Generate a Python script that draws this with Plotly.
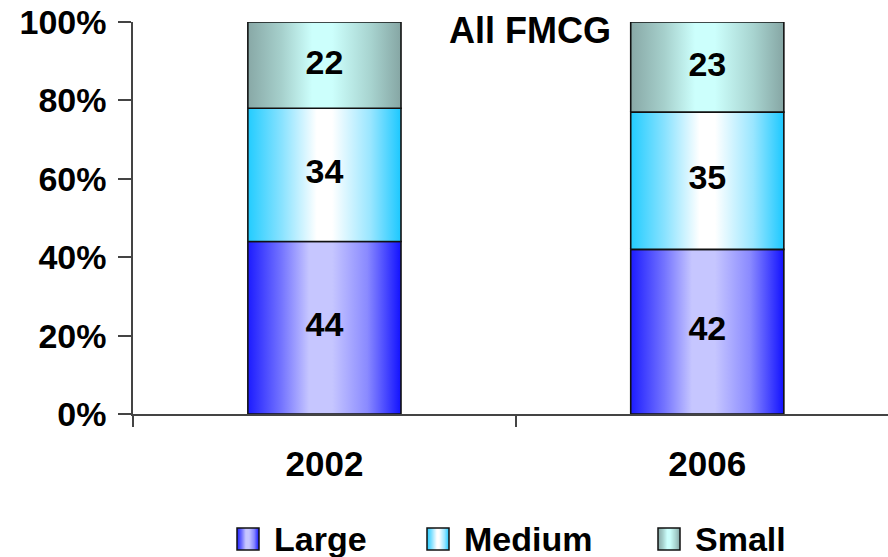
import plotly.graph_objects as go

# Share of FMCG sales by company size, per year (percent)
years = ["2002", "2006"]
series_names = ["Large", "Medium", "Small"]
large = [44, 42]
medium = [34, 35]
small = [22, 23]
y_ticks = [0, 20, 40, 60, 80, 100]
y_tick_labels = ["0%", "20%", "40%", "60%", "80%", "100%"]

series_values = [large, medium, small]

# Horizontal "cylinder" shading per series: dark edges, light centre
gradients = {
    "Large": [[0, "#1c1cff"], [0.22, "#7474ff"], [0.4, "#c6c6ff"], [0.55, "#c6c6ff"],
              [0.78, "#8a8aff"], [1, "#1212ff"]],
    "Medium": [[0, "#22ccff"], [0.22, "#88e2ff"], [0.45, "#ffffff"], [0.55, "#ffffff"],
               [0.8, "#9ae6ff"], [1, "#1cc8ff"]],
    "Small": [[0, "#88a8a6"], [0.22, "#a6d0cc"], [0.42, "#ccfffc"], [0.55, "#ccfffc"],
              [0.8, "#a8d4d0"], [1, "#86a6a4"]],
}

BAR_WIDTH = 0.4
FONT = "Liberation Sans, Arial, sans-serif"

fig = go.Figure()

label_x, label_y, label_t = [], [], []
for i, year in enumerate(years):
    base = 0
    for name, vals in zip(series_names, series_values):
        v = vals[i]
        x0, x1 = i - BAR_WIDTH / 2, i + BAR_WIDTH / 2
        fig.add_trace(go.Scatter(
            x=[x0, x1, x1, x0, x0],
            y=[base, base, base + v, base + v, base],
            mode="lines",
            fill="toself",
            fillgradient=dict(type="horizontal", colorscale=gradients[name]),
            line=dict(color="#111111", width=1.6),
            showlegend=False,
            hoverinfo="skip",
        ))
        label_x.append(i)
        label_y.append(base + v / 2)
        label_t.append(str(v))
        base += v

fig.add_trace(go.Scatter(
    x=label_x, y=label_y, text=label_t, mode="text",
    textfont=dict(family=FONT, size=34, color="#000000", weight="bold"),
    showlegend=False, hoverinfo="skip",
))

# Hidden trace on the overlay axis that carries the category boundary ticks
fig.add_trace(go.Scatter(x=[-0.5, 1.5], y=[0, 0], xaxis="x2", mode="none",
                         showlegend=False, hoverinfo="skip"))

XRANGE = [-0.5, 1.472]

fig.update_layout(
    width=888, height=557,
    margin=dict(l=133, r=0, t=22, b=143),
    paper_bgcolor="#ffffff", plot_bgcolor="#ffffff",
    showlegend=False,
    title=dict(text="All FMCG", x=530 / 888, xanchor="center", xref="container",
               y=1 - 30 / 557, yref="container", yanchor="middle",
               font=dict(family=FONT, size=36, color="#000000", weight="bold")),
    xaxis=dict(range=XRANGE, tickvals=list(range(len(years))), ticktext=years,
               ticks="", showgrid=False, zeroline=False,
               showline=True, linecolor="#444444", linewidth=1.5,
               tickfont=dict(family=FONT, size=35, color="#000000", weight="bold"),
               ticklabelstandoff=18),
    xaxis2=dict(range=XRANGE, overlaying="x", anchor="y", side="bottom",
                tickvals=[-0.5, 0.5, 1.5], showticklabels=False,
                ticks="outside", ticklen=12, tickwidth=1.5, tickcolor="#444444",
                showgrid=False, zeroline=False, showline=False),
    yaxis=dict(range=[0, 100], tickvals=y_ticks, ticktext=y_tick_labels,
               ticks="outside", ticklen=13, tickwidth=1.5, tickcolor="#444444",
               showgrid=False, zeroline=False,
               showline=True, linecolor="#444444", linewidth=1.5,
               tickfont=dict(family=FONT, size=34, color="#000000", weight="bold"),
               ticklabelstandoff=5),
)

# Legend: gradient swatches built from vertical strips, plus bold labels
legend_items = [("Large", 237, 272), ("Medium", 427, 462), ("Small", 658, 693)]
SW, SY0, SY1 = 22, 528, 550
H = 557


def interp(scale, t):
    for (a, ca), (b, cb) in zip(scale, scale[1:]):
        if a <= t <= b:
            f = 0 if b == a else (t - a) / (b - a)
            ra, ga, ba = int(ca[1:3], 16), int(ca[3:5], 16), int(ca[5:7], 16)
            rb, gb, bb = int(cb[1:3], 16), int(cb[3:5], 16), int(cb[5:7], 16)
            return "rgb(%d,%d,%d)" % (ra + (rb - ra) * f, ga + (gb - ga) * f, ba + (bb - ba) * f)
    return scale[-1][1]


shapes = []
annotations = []
for name, sx, tx in legend_items:
    n = SW
    for k in range(n):
        t = (k + 0.5) / n
        shapes.append(dict(type="rect", xref="paper", yref="paper",
                           x0=(sx + k - 133) / 755, x1=(sx + k + 1 - 133) / 755,
                           y0=(H - 143 - SY1) / 392, y1=(H - 143 - SY0) / 392,
                           fillcolor=interp(gradients[name], t), line=dict(width=0),
                           layer="above"))
    shapes.append(dict(type="rect", xref="paper", yref="paper",
                       x0=(sx - 133) / 755, x1=(sx + SW - 133) / 755,
                       y0=(H - 143 - SY1) / 392, y1=(H - 143 - SY0) / 392,
                       line=dict(color="#111111", width=1.5), fillcolor="rgba(0,0,0,0)",
                       layer="above"))
    annotations.append(dict(text=name, xref="paper", yref="paper",
                            x=(tx - 133) / 755, y=(H - 143 - (SY0 + SY1) / 2) / 392,
                            xanchor="left", yanchor="middle", showarrow=False,
                            font=dict(family=FONT, size=34, color="#000000", weight="bold")))

fig.update_layout(shapes=shapes, annotations=annotations)

fig.write_html("out.html")
